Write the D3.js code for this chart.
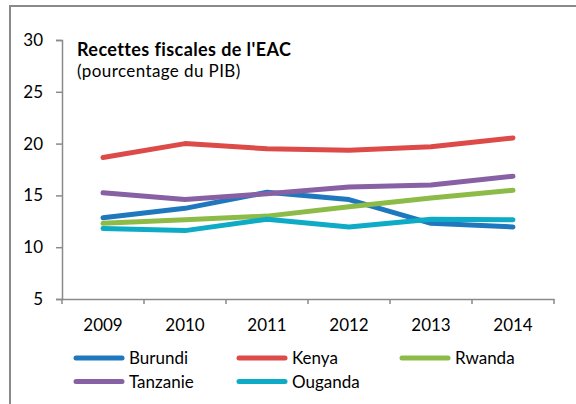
<!DOCTYPE html>
<html>
<head>
<meta charset="utf-8">
<script src="https://cdn.jsdelivr.net/npm/d3@7"></script>
<style>
  body { margin: 0; background: #fff; }
  svg { display: block; }
</style>
</head>
<body>
<div id="chart"></div>
<script>
// data
const years = ['2009', '2010', '2011', '2012', '2013', '2014'];
const burundi = [12.85, 13.75, 15.3, 14.6, 12.3, 11.95];
const kenya = [18.65, 20.0, 19.5, 19.35, 19.7, 20.55];
const rwanda = [12.3, 12.65, 13.0, 13.9, 14.75, 15.5];
const tanzanie = [15.25, 14.6, 15.15, 15.8, 16.0, 16.85];
const ouganda = [11.8, 11.6, 12.7, 11.95, 12.7, 12.65];
const yTicks = [5, 10, 15, 20, 25, 30];

const series = [
  { name: 'Burundi', values: burundi, color: '#1f78be' },
  { name: 'Kenya', values: kenya, color: '#dc4b47' },
  { name: 'Rwanda', values: rwanda, color: '#8dbb48' },
  { name: 'Tanzanie', values: tanzanie, color: '#8761a4' },
  { name: 'Ouganda', values: ouganda, color: '#0eabc6' }
];

const width = 576, height = 404;
const font = 'Lato, "Open Sans", sans-serif';
const axisColor = '#8a8a8a';

const svg = d3.select('#chart')
  .append('svg')
  .attr('width', width)
  .attr('height', height)
  .style('font-family', font);

// outer frame (only top and left edges fall inside the picture)
svg.append('rect')
  .attr('x', 10)
  .attr('y', 6)
  .attr('width', 600)
  .attr('height', 420)
  .attr('fill', 'none')
  .attr('stroke', axisColor)
  .attr('stroke-width', 2);

const x = d3.scaleBand().domain(years).range([62, 554]);
const y = d3.scaleLinear().domain([5, 30]).range([299, 40]);

// y axis
const yAxis = svg.append('g')
  .attr('transform', 'translate(62,0)')
  .call(d3.axisLeft(y).tickValues(yTicks).tickSize(6).tickPadding(13));
yAxis.select('.domain').attr('stroke', axisColor).attr('stroke-width', 1.5);
yAxis.selectAll('.tick line').attr('stroke', axisColor).attr('stroke-width', 1.5);
yAxis.selectAll('.tick text')
  .style('font-size', '17px')
  .style('font-family', font)
  .attr('fill', '#000');

// x axis with ticks between categories
const xAxis = svg.append('g')
  .attr('transform', 'translate(0,299)')
  .call(d3.axisBottom(x).tickSize(0).tickPadding(20));
xAxis.select('.domain').attr('stroke', axisColor).attr('stroke-width', 1.5);
xAxis.selectAll('.tick text')
  .style('font-size', '17px')
  .style('font-family', font)
  .attr('fill', '#000');
xAxis.selectAll('.sep')
  .data(years.concat(['end']))
  .enter()
  .append('line')
  .attr('class', 'sep')
  .attr('x1', (d, i) => i < years.length ? x(d) : x.range()[1])
  .attr('x2', (d, i) => i < years.length ? x(d) : x.range()[1])
  .attr('y1', 0)
  .attr('y2', 5)
  .attr('stroke', axisColor)
  .attr('stroke-width', 1.5);

// lines
const line = d3.line()
  .x((d, i) => x(years[i]) + x.bandwidth() / 2)
  .y(d => y(d));

svg.selectAll('.series')
  .data(series)
  .enter()
  .append('path')
  .attr('class', 'series')
  .attr('d', d => line(d.values))
  .attr('fill', 'none')
  .attr('stroke', d => d.color)
  .attr('stroke-width', 5)
  .attr('stroke-linecap', 'round')
  .attr('stroke-linejoin', 'round');

// title
svg.append('text')
  .attr('x', 77)
  .attr('y', 56)
  .style('font-size', '18px')
  .style('font-weight', 'bold')
  .style('letter-spacing', '0.4px')
  .text("Recettes fiscales de l'EAC");
svg.append('text')
  .attr('x', 77)
  .attr('y', 77)
  .style('font-size', '17px')
  .style('letter-spacing', '0.4px')
  .text('(pourcentage du PIB)');

// legend
const legend = svg.selectAll('.legend')
  .data(series)
  .enter()
  .append('g')
  .attr('class', 'legend')
  .attr('transform', (d, i) => `translate(${74 + (i % 3) * 163},${i < 3 ? 358 : 381.5})`);

legend.append('line')
  .attr('x1', 2)
  .attr('x2', 48)
  .attr('stroke', d => d.color)
  .attr('stroke-width', 5)
  .attr('stroke-linecap', 'round');

legend.append('text')
  .attr('x', 55)
  .attr('dy', '0.36em')
  .style('font-size', '17px')
  .text(d => d.name);
</script>
</body>
</html>
